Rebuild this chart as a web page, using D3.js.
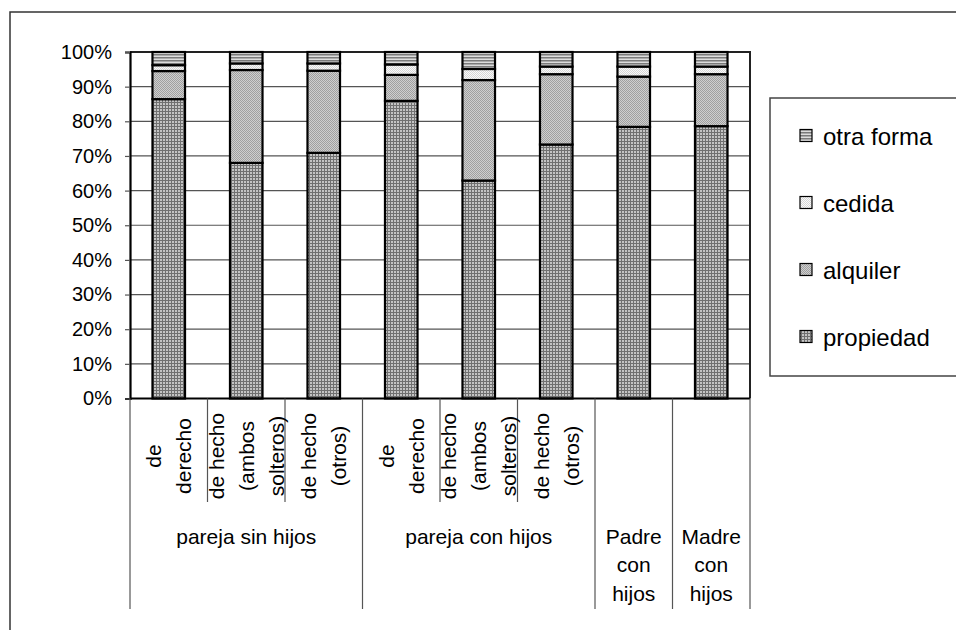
<!DOCTYPE html>
<html>
<head>
<meta charset="utf-8">
<script src="https://cdn.jsdelivr.net/npm/d3@7"></script>
<style>
  html, body { margin: 0; padding: 0; background: #fff; }
  svg { display: block; font-family: "Liberation Sans", Arial, sans-serif; }
</style>
</head>
<body>
<svg id="chart" width="956" height="630"></svg>
<script>
// Régimen de tenencia de la vivienda por tipo de hogar (porcentajes apilados)
const subLabels = [
  ["de", "derecho"], ["de hecho", "(ambos", "solteros)"], ["de hecho", "(otros)"],
  ["de", "derecho"], ["de hecho", "(ambos", "solteros)"], ["de hecho", "(otros)"],
  [], []
];
const groupLabels = [["pareja sin hijos"], ["pareja con hijos"], ["Padre", "con", "hijos"], ["Madre", "con", "hijos"]];
const groupSizes = [3, 3, 1, 1];

const seriesNames = ["propiedad", "alquiler", "cedida", "otra forma"];
const propiedad = [86.4, 68.0, 70.9, 85.9, 62.9, 73.3, 78.4, 78.6];
const alquiler  = [8.1, 26.8, 23.7, 7.5, 29.0, 20.3, 14.5, 15.0];
const cedida    = [1.7, 1.9, 2.1, 3.0, 3.2, 2.2, 2.9, 2.2];
const otraForma = [3.8, 3.3, 3.3, 3.6, 4.9, 4.2, 4.2, 4.2];

const yTicks = [0, 10, 20, 30, 40, 50, 60, 70, 80, 90, 100];

const rows = propiedad.map((_, i) => ({
  idx: i,
  "propiedad": propiedad[i],
  "alquiler": alquiler[i],
  "cedida": cedida[i],
  "otra forma": otraForma[i]
}));

const svg = d3.select("#chart");
const plotLeft = 130, plotRight = 750, plotTop = 52, plotBottom = 398.5;

// Fill patterns for each series
const defs = svg.append("defs");
function pat(id, w, h, build) {
  const p = defs.append("pattern").attr("id", id).attr("patternUnits", "userSpaceOnUse")
    .attr("width", w).attr("height", h);
  build(p);
}
pat("p-propiedad", 3, 3, p => {
  p.append("rect").attr("width", 3).attr("height", 3).attr("fill", "#c4c4c4");
  p.append("rect").attr("width", 3).attr("height", 1).attr("fill", "#707070");
  p.append("rect").attr("width", 1).attr("height", 3).attr("fill", "#707070");
});
pat("p-alquiler", 2, 2, p => {
  p.append("rect").attr("width", 2).attr("height", 2).attr("fill", "#cfcfcf");
  p.append("rect").attr("width", 1).attr("height", 1).attr("fill", "#a0a0a0");
  p.append("rect").attr("x", 1).attr("y", 1).attr("width", 1).attr("height", 1).attr("fill", "#a0a0a0");
});
pat("p-cedida", 2, 2, p => {
  p.append("rect").attr("width", 2).attr("height", 2).attr("fill", "#fafafa");
  p.append("rect").attr("width", 1).attr("height", 1).attr("fill", "#d6d6d6");
  p.append("rect").attr("x", 1).attr("y", 1).attr("width", 1).attr("height", 1).attr("fill", "#d6d6d6");
});
pat("p-otra", 3, 3, p => {
  p.append("rect").attr("width", 3).attr("height", 3).attr("fill", "#dcdcdc");
  p.append("rect").attr("width", 3).attr("height", 1).attr("fill", "#7a7a7a");
  p.append("rect").attr("y", 1).attr("width", 3).attr("height", 1).attr("fill", "#aaaaaa");
});
const fills = {
  "propiedad": "url(#p-propiedad)",
  "alquiler": "url(#p-alquiler)",
  "cedida": "url(#p-cedida)",
  "otra forma": "url(#p-otra)"
};

// Outer frame
svg.append("path").attr("d", "M10,630 L10,12 L956,12")
  .attr("fill", "none").attr("stroke", "#333").attr("stroke-width", 1.5);

const x = d3.scaleBand().domain(d3.range(propiedad.length)).range([plotLeft, plotRight])
  .paddingInner(0.58).paddingOuter(0.29);
const y = d3.scaleLinear().domain([0, 100]).range([plotBottom, plotTop]);

// Gridlines
svg.append("g").selectAll("line").data(yTicks.filter(t => t > 0 && t < 100)).join("line")
  .attr("x1", plotLeft).attr("x2", plotRight).attr("y1", d => y(d)).attr("y2", d => y(d))
  .attr("stroke", "#555").attr("stroke-width", 1.2);

// Plot area border (top and right)
svg.append("path").attr("d", `M${plotLeft},${y(100)} L${plotRight},${y(100)} L${plotRight},${plotBottom}`)
  .attr("fill", "none").attr("stroke", "#222").attr("stroke-width", 2);

// Stacked bars
const stack = d3.stack().keys(seriesNames);
const layers = stack(rows);
svg.append("g").selectAll("g").data(layers).join("g")
  .attr("fill", d => fills[d.key])
  .selectAll("rect").data(d => d).join("rect")
  .attr("x", d => x(d.data.idx))
  .attr("width", x.bandwidth())
  .attr("y", d => y(d[1]))
  .attr("height", d => y(d[0]) - y(d[1]))
  .attr("stroke", "#000").attr("stroke-width", 2.2);

// Y axis
const yAxis = svg.append("g").attr("transform", `translate(${plotLeft},0)`)
  .call(d3.axisLeft(y).tickValues(yTicks).tickFormat(d => d + "%").tickSize(5).tickPadding(13));
yAxis.select(".domain").attr("stroke", "#000").attr("stroke-width", 2.2);
yAxis.selectAll(".tick line").attr("stroke", "#555").attr("stroke-width", 1.2);
yAxis.selectAll(".tick text").attr("font-size", 20).attr("fill", "#000")
  .attr("font-family", "Liberation Sans, Arial, sans-serif");

// X axis baseline
svg.append("line").attr("x1", plotLeft).attr("x2", plotRight).attr("y1", plotBottom).attr("y2", plotBottom)
  .attr("stroke", "#000").attr("stroke-width", 2.2);

// Category separators: inner (short) and group (long)
const step = x.step();
const groupStarts = groupSizes.reduce((acc, n, i) => { acc.push(i === 0 ? 0 : acc[i - 1] + groupSizes[i - 1]); return acc; }, []);
const groupBounds = groupStarts.concat([propiedad.length]);
const innerBounds = d3.range(1, propiedad.length).filter(i => !groupBounds.includes(i));
const bx = i => plotLeft + i * step;

svg.append("g").selectAll("line").data(innerBounds).join("line")
  .attr("x1", bx).attr("x2", bx).attr("y1", plotBottom).attr("y2", 502)
  .attr("stroke", "#555").attr("stroke-width", 1.2);
svg.append("g").selectAll("line").data(groupBounds).join("line")
  .attr("x1", bx).attr("x2", bx).attr("y1", plotBottom).attr("y2", 609)
  .attr("stroke", "#555").attr("stroke-width", 1.2);

// Rotated sub-category labels
const subG = svg.append("g").attr("font-size", 21).attr("fill", "#000");
subLabels.forEach((lines, i) => {
  const cx = x(i) + x.bandwidth() / 2;
  const n = lines.length;
  lines.forEach((ln, k) => {
    const lx = cx + (k - (n - 1) / 2) * 30;
    subG.append("text")
      .attr("transform", `translate(${lx},456) rotate(-90)`)
      .attr("text-anchor", "middle").attr("dominant-baseline", "central")
      .text(ln);
  });
});

// Group labels
const grpG = svg.append("g").attr("font-size", 21).attr("fill", "#000");
groupLabels.forEach((lines, g) => {
  const cx = (bx(groupBounds[g]) + bx(groupBounds[g + 1])) / 2;
  lines.forEach((ln, k) => {
    grpG.append("text").attr("x", cx).attr("y", 536 + k * 28.5)
      .attr("text-anchor", "middle").attr("dominant-baseline", "central").text(ln);
  });
});

// Legend
const legTop = 98, legBottom = 376;
svg.append("path").attr("d", `M958,${legTop} L770,${legTop} L770,${legBottom} L958,${legBottom}`)
  .attr("fill", "#fff").attr("stroke", "#444").attr("stroke-width", 1.5);
const legendOrder = seriesNames.slice().reverse();
const legY = d3.scalePoint().domain(legendOrder).range([136, 337]);
const leg = svg.append("g");
legendOrder.forEach(name => {
  const cy = legY(name);
  leg.append("rect").attr("x", 800).attr("y", cy - 6.5).attr("width", 12).attr("height", 12)
    .attr("fill", fills[name]).attr("stroke", "#000").attr("stroke-width", 1.2);
  leg.append("text").attr("x", 823).attr("y", cy).attr("dominant-baseline", "central")
    .attr("font-size", 24).attr("fill", "#000").text(name);
});
</script>
</body>
</html>
